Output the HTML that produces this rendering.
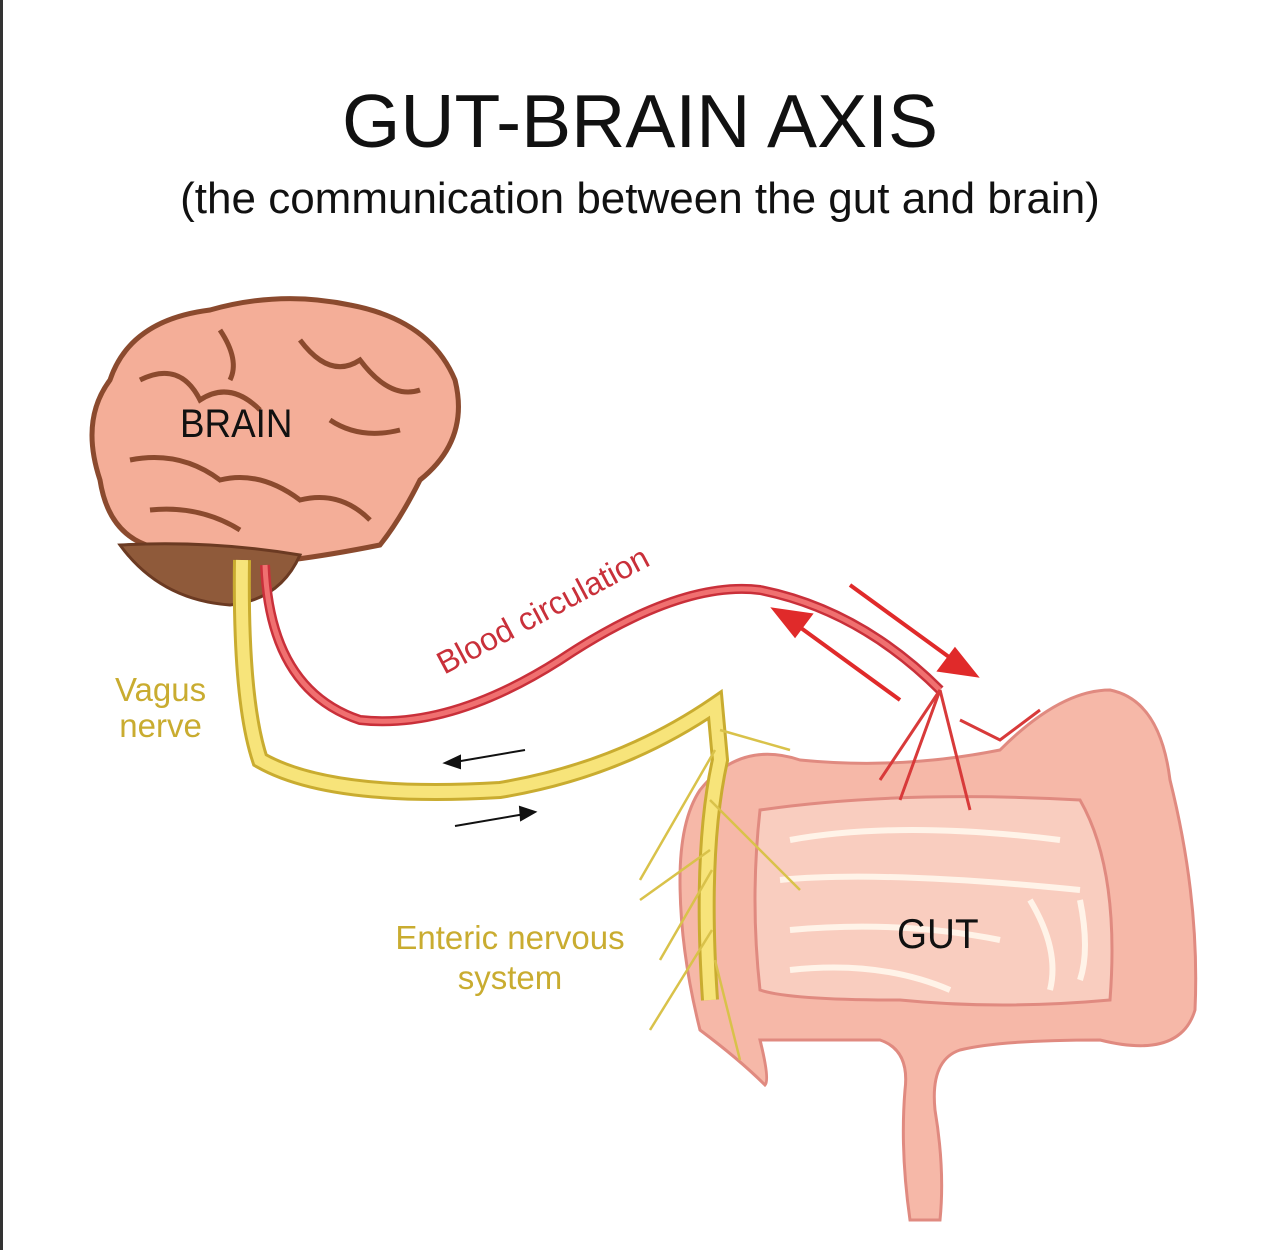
<!DOCTYPE html>
<html><head><meta charset="utf-8"><style>
html,body{margin:0;padding:0;background:#fff;}
body{width:1280px;height:1250px;overflow:hidden;position:relative;font-family:"Liberation Sans",sans-serif;}
.t{position:absolute;left:0;width:1280px;text-align:center;color:#111;}
</style></head><body>
<div style="position:absolute;left:0;top:0;width:3px;height:1250px;background:#333"></div>
<div class="t" style="top:78px;font-size:75px;">GUT-BRAIN AXIS</div>
<div class="t" style="top:174px;font-size:44px;">(the communication between the gut and brain)</div>
<svg width="1280" height="1250" style="position:absolute;left:0;top:0">
<!-- gut -->
<g stroke="#e08a80" stroke-width="3" fill="#f6b8a8">
<path d="M700 790 Q740 740 800 760 Q900 770 1000 750 Q1060 690 1110 690 Q1160 700 1170 780 Q1200 900 1195 1010 Q1180 1060 1100 1040 Q1000 1040 960 1050 Q930 1060 935 1110 Q945 1170 940 1220 L910 1220 Q900 1150 905 1090 Q910 1050 880 1040 L760 1040 Q770 1080 765 1085 Q740 1060 700 1030 Q680 950 680 880 Q680 820 700 790 Z"/>
<path d="M760 810 Q900 790 1080 800 Q1120 870 1110 1000 Q1000 1010 900 1000 Q790 1000 760 990 Q750 900 760 810 Z" fill="#f9cdbf"/>
</g>
<g stroke="#fff3e8" stroke-width="6" fill="none">
<path d="M790 840 Q900 820 1060 840"/><path d="M780 880 Q880 870 1080 890"/><path d="M790 930 Q900 920 1000 940"/><path d="M790 970 Q880 960 950 990"/>
<path d="M1030 900 Q1060 950 1050 990"/><path d="M1080 900 Q1090 950 1080 980"/>
</g>
<!-- brain -->
<path d="M100 480 Q80 420 110 380 Q130 320 210 310 Q280 290 350 305 Q430 320 455 380 Q470 440 420 480 Q400 520 380 545 Q330 555 290 560 Q240 560 170 550 Q110 545 100 480 Z" fill="#f4ae98" stroke="#8b4a2e" stroke-width="5"/>
<path d="M120 545 Q160 600 230 605 Q280 600 300 555 Q210 540 120 545 Z" fill="#8f5a3a" stroke="#6b3a22" stroke-width="3"/>
<g stroke="#8b4a2e" stroke-width="5" fill="none">
<path d="M140 380 Q180 360 200 400 Q230 380 260 410"/><path d="M300 340 Q330 380 360 360 Q390 400 420 390"/>
<path d="M130 460 Q180 450 220 480 Q260 470 300 500 Q340 490 370 520"/><path d="M220 330 Q240 360 230 380"/>
<path d="M330 420 Q360 440 400 430"/><path d="M150 510 Q200 505 240 530"/>
</g>
<!-- blood -->
<path d="M265 565 Q270 690 360 720 Q450 730 560 660 Q680 580 760 590 Q860 610 940 690" fill="none" stroke="#c9303a" stroke-width="10"/>
<path d="M265 565 Q270 690 360 720 Q450 730 560 660 Q680 580 760 590 Q860 610 940 690" fill="none" stroke="#f07070" stroke-width="5"/>
<g stroke="#d83a3a" stroke-width="3" fill="none">
<path d="M940 690 L900 800"/><path d="M940 690 L970 810"/><path d="M960 720 L1000 740 L1040 710"/><path d="M940 690 L880 780"/>
</g>
<g stroke="#e02a2a" stroke-width="4" fill="#e02a2a">
<line x1="900" y1="700" x2="790" y2="620"/><path d="M775 610 L810 615 L795 635 Z"/>
<line x1="850" y1="585" x2="960" y2="665"/><path d="M975 675 L940 670 L955 650 Z"/>
</g>
<!-- vagus -->
<path d="M242 560 Q240 700 260 760 Q330 800 500 790 Q620 770 715 705 L720 760 Q700 850 710 1000" fill="none" stroke="#c9ac30" stroke-width="18"/>
<path d="M242 560 Q240 700 260 760 Q330 800 500 790 Q620 770 715 705 L720 760 Q700 850 710 1000" fill="none" stroke="#f7e47a" stroke-width="12"/>
<g stroke="#d9c24a" stroke-width="2.5" fill="none">
<path d="M715 750 L640 880"/><path d="M710 800 L800 890"/><path d="M712 870 L660 960"/><path d="M712 930 L650 1030"/><path d="M715 960 L740 1060"/><path d="M720 730 L790 750"/><path d="M710 850 L640 900"/>
</g>
<g stroke="#111" stroke-width="2" fill="#111">
<line x1="525" y1="750" x2="455" y2="762"/><path d="M445 763 L460 756 L460 768 Z"/>
<line x1="455" y1="826" x2="525" y2="814"/><path d="M535 812 L520 807 L521 820 Z"/>
</g>
</svg>
<div style="position:absolute;left:180px;top:402px;font-size:40px;color:#111;transform:scaleX(0.92);transform-origin:0 0;">BRAIN</div>
<div style="position:absolute;left:897px;top:910px;font-size:42px;color:#111;transform:scaleX(0.92);transform-origin:0 0;">GUT</div>
<div style="position:absolute;left:115px;top:672px;font-size:33px;color:#c9ac30;text-align:center;line-height:36px;">Vagus<br>nerve</div>
<div style="position:absolute;left:380px;top:918px;width:260px;font-size:33px;color:#c9ac30;text-align:center;line-height:40px;">Enteric nervous<br>system</div>
<div style="position:absolute;left:448px;top:645px;font-size:32px;color:#c9303a;transform:rotate(-28deg);transform-origin:0 100%;white-space:nowrap;">Blood circulation</div>
</body></html>
